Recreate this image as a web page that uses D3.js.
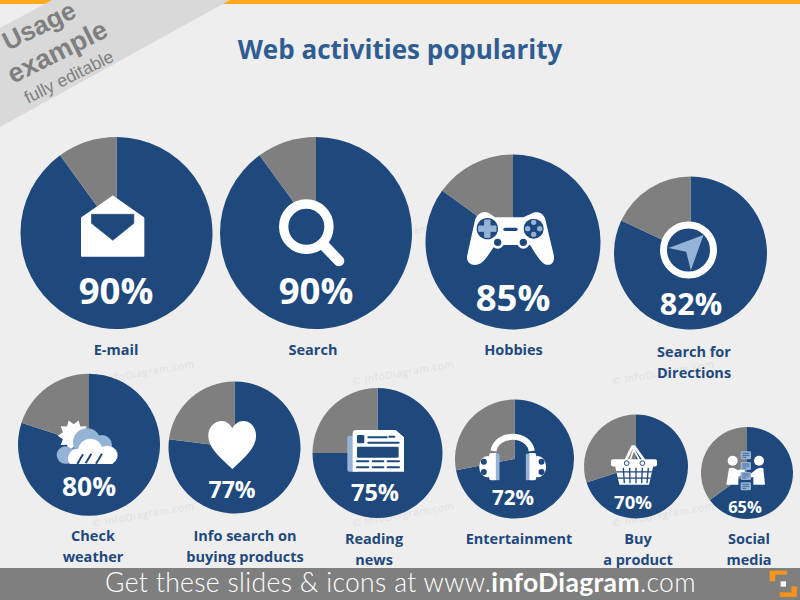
<!DOCTYPE html>
<html>
<head>
<meta charset="utf-8">
<title>Web activities popularity</title>
<script src="https://cdn.jsdelivr.net/npm/d3@7/dist/d3.min.js"></script>
<style>
html,body{margin:0;padding:0;background:#eeeeee;}
svg{display:block;}
</style>
</head>
<body>
<svg id="chart" width="800" height="600"></svg>
<script>
// Survey values
const categories = ["E-mail","Search","Hobbies","Search for\nDirections","Check\nweather","Info search on\nbuying products","Reading\nnews","Entertainment","Buy\na product","Social\nmedia"];
const values = [90,90,85,82,80,77,75,72,70,65];
const icons = ["mail","search","gamepad","compass","weather","heart","news","headphones","basket","social"];

// Layout, one entry per pie
const centerX = [116.5,316,513,690.5,89,234.5,377.5,514.5,636,747];
const centerY = [233,233,242,253,444.7,447.5,453,459,466.5,473];
const radii = [96,96,87.5,76.5,71,66,65,59.5,52,46];
const valueX = [116,316,513,691,89,232,375,513,633,745];
const valueY = [304,304,311,315,496,498,501,505,509,513];
const valueSize = [36.5,36.5,36.5,30.5,26.5,23,23.5,20.5,18.5,16.5];
const labelX = [116,313,513.5,694,93,245,374,519,638,749];
const labelY = [355,355,355,357,541,541,544,544,544,544];

const NAVY="#1f497d", GREY="#7f7f7f", LIGHT="#95b3d7", WHITE="#ffffff";
const svg = d3.select("#chart");

svg.append("rect").attr("width",800).attr("height",600).attr("fill","#eeeeee");
svg.append("rect").attr("width",800).attr("height",4).attr("fill","#ffa91f");

// Faint copyright stamps sit under the pies
const stampX=[93,353,613], stampY=[245,385,527];
stampY.forEach(y=>stampX.forEach(x=>{
  svg.append("text").attr("transform",`translate(${x},${y}) rotate(-10)`)
    .attr("font-family","Open Sans").attr("font-size",10).attr("letter-spacing",0.7)
    .attr("fill","#dedede").text("© InfoDiagram.com");
}));

// Corner ribbon
svg.append("path").attr("d","M0,28 L52,0 L230,0 L0,127 Z").attr("fill","#d9d9d9");
const ribbon=[["Usage",8,51,26,"bold"],["example",13,84,27,"bold"],["fully editable",28,104,17.5,"normal"]];
ribbon.forEach(r=>{
  svg.append("text").attr("transform",`translate(${r[1]},${r[2]}) rotate(-26.5)`)
    .attr("font-family","Liberation Sans").attr("font-size",r[3]).attr("font-weight",r[4])
    .attr("fill","#7f7f7f").text(r[0]);
});

svg.append("text").attr("x",400).attr("y",59).attr("text-anchor","middle")
  .attr("font-family","Open Sans").attr("font-weight",700).attr("font-size",26)
  .attr("fill","#2f5d92").text("Web activities popularity");

const pie=d3.pie().sort(null);
const colour=d3.scaleOrdinal().domain([0,1]).range([NAVY,GREY]);

// Icons are sketched in a 3x grid around a local origin
const iconDraw={
  mail(g){
    g.append("path").attr("d","M278,199 L370,264 V378 H185 V264 Z").attr("fill",WHITE).attr("stroke",WHITE).attr("stroke-width",5).attr("stroke-linejoin","round");
    g.append("path").attr("d","M214,253 H341 V280 L278,331 L214,280 Z").attr("fill",NAVY).attr("stroke",NAVY).attr("stroke-width",2).attr("stroke-linejoin","round");
  },
  search(g){
    g.append("circle").attr("cx",860).attr("cy",290).attr("r",68).attr("fill",NAVY).attr("stroke",WHITE).attr("stroke-width",28);
    g.append("line").attr("x1",912).attr("y1",345).attr("x2",958).attr("y2",393).attr("stroke",WHITE).attr("stroke-width",32).attr("stroke-linecap","round");
  },
  gamepad(g){
    g.append("path").attr("d","M205,128 C190,122 172,130 165,150 L142,255 C136,280 160,292 182,280 C195,272 212,245 225,225 L330,225 C345,248 358,272 372,281 C392,292 408,276 400,250 L375,145 C368,125 345,122 332,132 L310,142 L225,142 Z").attr("fill",WHITE);
    g.append("circle").attr("cx",202).attr("cy",176).attr("r",32).attr("fill",NAVY);
    g.append("path").attr("d","M194,150 H210 V168 H228 V184 H210 V202 H194 V184 H176 V168 H194 Z").attr("fill",LIGHT).attr("stroke",LIGHT).attr("stroke-width",3).attr("stroke-linejoin","round");
    g.append("circle").attr("cx",341).attr("cy",176).attr("r",30).attr("fill",NAVY);
    [[341,157],[341,193],[323,176],[359,176]].forEach(p=>g.append("circle").attr("cx",p[0]).attr("cy",p[1]).attr("r",8).attr("fill",LIGHT));
    g.append("line").attr("x1",255).attr("y1",178).attr("x2",288).attr("y2",178).attr("stroke",NAVY).attr("stroke-width",10).attr("stroke-linecap","round");
    [[233,217],[310,217]].forEach(p=>{
      g.append("circle").attr("cx",p[0]).attr("cy",p[1]).attr("r",19).attr("fill",WHITE);
      g.append("circle").attr("cx",p[0]).attr("cy",p[1]).attr("r",11).attr("fill",NAVY);
    });
  },
  compass(g){
    g.append("circle").attr("cx",805).attr("cy",241).attr("r",75).attr("fill",NAVY).attr("stroke",WHITE).attr("stroke-width",21);
    g.append("path").attr("d","M850,196 L745,235 L798,246 L812,302 Z").attr("fill",LIGHT);
  },
  weather(g){
    const spikes=d3.range(20).map(i=>{const a=i*Math.PI/10,rr=i%2?34:48;return [222+rr*Math.cos(a),212+rr*Math.sin(a)];});
    g.append("polygon").attr("points",spikes.join(" ")).attr("fill",WHITE);
    [[262,232,42],[307,240,30],[197,270,26],[330,270,25]].forEach(c=>g.append("circle").attr("cx",c[0]).attr("cy",c[1]).attr("r",c[2]).attr("fill",LIGHT));
    g.append("rect").attr("x",197).attr("y",250).attr("width",135).attr("height",45).attr("fill",LIGHT);
    g.append("path").attr("d","M211,297 A28,28 0 0 1 235,252 A38,38 0 0 1 308,246 A28,28 0 0 1 338,297 Z").attr("fill",WHITE);
    [[233,297,250,268],[258,295,275,266],[289,296,307,266]].forEach(l=>g.append("line").attr("x1",l[0]).attr("y1",l[1]).attr("x2",l[2]).attr("y2",l[3]).attr("stroke",NAVY).attr("stroke-width",6));
  },
  heart(g){
    g.append("path").attr("d","M697,312 C660,275 625,250 625,212 C625,185 645,168 665,168 C680,168 690,178 697,190 C704,178 714,168 730,168 C750,168 768,185 768,212 C768,250 735,275 697,312 Z").attr("fill",WHITE);
  },
  news(g){
    g.append("rect").attr("x",127).attr("y",167).attr("width",30).attr("height",108).attr("rx",5).attr("fill",LIGHT);
    g.append("path").attr("d","M143,160 Q143,150 155,150 L272,150 L297,172 V275 H143 Z").attr("fill",WHITE);
    g.append("rect").attr("x",156).attr("y",165).attr("width",22).attr("height",25).attr("rx",4).attr("fill",NAVY);
    g.append("rect").attr("x",156).attr("y",200).attr("width",125).attr("height",33).attr("rx",4).attr("fill",NAVY);
    [[190,172,245],[190,188,281],[253,170,268],[156,244,190],[203,244,235],[248,244,282],[156,262,190],[203,262,235],[248,262,282]].forEach(l=>
      g.append("line").attr("x1",l[0]).attr("y1",l[1]).attr("x2",l[2]).attr("y2",l[1]).attr("stroke",NAVY).attr("stroke-width",6).attr("stroke-linecap","round"));
  },
  headphones(g){
    g.append("path").attr("d","M565,212 C575,155 670,155 680,212").attr("fill","none").attr("stroke",WHITE).attr("stroke-width",18);
    const cup=(sign)=>{
      const c=g.append("g").attr("transform",sign<0?"translate(1245,0) scale(-1,1)":null);
      c.append("ellipse").attr("cx",548).attr("cy",259).attr("rx",26).attr("ry",32).attr("fill",WHITE);
      c.append("circle").attr("cx",536).attr("cy",244).attr("r",9).attr("fill",NAVY);
      c.append("circle").attr("cx",536).attr("cy",275).attr("r",9).attr("fill",NAVY);
      c.append("rect").attr("x",552).attr("y",218).attr("width",24).attr("height",82).attr("rx",6).attr("fill",WHITE);
      c.append("rect").attr("x",572).attr("y",220).attr("width",11).attr("height",80).attr("rx",3).attr("fill",LIGHT);
    };
    cup(1);cup(-1);
  },
  basket(g){
    g.append("path").attr("d","M152,182 L172,140 H178 L208,182").attr("fill","none").attr("stroke",WHITE).attr("stroke-width",8).attr("stroke-linejoin","round");
    g.append("path").attr("d","M165,182 L178,142").attr("stroke",WHITE).attr("stroke-width",5);
    g.append("path").attr("d","M194,182 L172,142").attr("stroke",WHITE).attr("stroke-width",5);
    g.append("rect").attr("x",108).attr("y",178).attr("width",138).attr("height",22).attr("rx",6).attr("fill",WHITE);
    g.append("path").attr("d","M120,198 H235 L222,255 H133 Z").attr("fill",WHITE);
    [[124,216,231],[127,235,227]].forEach(l=>g.append("line").attr("x1",l[0]).attr("y1",l[1]).attr("x2",l[2]).attr("y2",l[1]).attr("stroke",NAVY).attr("stroke-width",4));
    [[145,148],[164,165],[183,183],[202,200],[220,216]].forEach(l=>g.append("line").attr("x1",l[0]).attr("y1",204).attr("x2",l[1]).attr("y2",250).attr("stroke",NAVY).attr("stroke-width",4));
    [[155,190],[202,190]].forEach(p=>g.append("circle").attr("cx",p[0]).attr("cy",p[1]).attr("r",7).attr("fill","none").attr("stroke",NAVY).attr("stroke-width",3));
  },
  social(g){
    g.append("circle").attr("cx",473).attr("cy",183).attr("r",15).attr("fill",WHITE);
    g.append("circle").attr("cx",552).attr("cy",183).attr("r",15).attr("fill",WHITE);
    g.append("path").attr("d","M462,206 C470,202 480,204 488,212 L508,206 L510,218 L490,232 V255 H454 Z").attr("fill",WHITE);
    g.append("path").attr("d","M565,206 C558,202 548,204 540,212 L520,228 L514,236 L535,232 V255 H570 Z").attr("fill",WHITE);
    [155,187,217,248].forEach(y=>{
      g.append("rect").attr("x",497).attr("y",y).attr("width",31).attr("height",24).attr("rx",4).attr("fill",LIGHT);
      [6,12,18].forEach(d=>g.append("line").attr("x1",502).attr("y1",y+d).attr("x2",d===18?514:523).attr("y2",y+d).attr("stroke",NAVY).attr("stroke-width",2));
    });
  }
};
// Where each icon's sketch origin falls, in its own 3x grid
const iconOrigin={mail:[289,309],search:[889,309],gamepad:[279,216],compass:[811,250],weather:[268,239],heart:[703.5,247.5],news:[217.5,219],headphones:[628,236],basket:[183,200],social:[516,220]};

values.forEach((v,i)=>{
  const g=svg.append("g").attr("transform",`translate(${centerX[i]},${centerY[i]})`);
  const arc=d3.arc().innerRadius(0).outerRadius(radii[i]);
  g.selectAll("path.slice").data(pie([v,100-v])).join("path").attr("class","slice")
    .attr("d",arc).attr("fill",(d,k)=>colour(k));
  const o=iconOrigin[icons[i]];
  const ig=g.append("g").attr("transform",`scale(${1/3}) translate(${-o[0]},${-o[1]})`);
  iconDraw[icons[i]](ig);
  svg.append("text").attr("x",valueX[i]).attr("y",valueY[i]).attr("text-anchor","middle")
    .attr("font-family","Open Sans").attr("font-weight",700).attr("font-size",valueSize[i])
    .attr("fill",WHITE).text(v+"%");
  categories[i].split("\n").forEach((line,k)=>{
    svg.append("text").attr("x",labelX[i]).attr("y",labelY[i]+k*21).attr("text-anchor","middle")
      .attr("font-family","Open Sans").attr("font-weight",700).attr("font-size",14.5)
      .attr("fill",NAVY).text(line);
  });
});

// Footer strip
svg.append("rect").attr("y",568).attr("width",800).attr("height",32).attr("fill","#7f7f7f");
const foot=svg.append("text").attr("x",105).attr("y",592).attr("font-family","Lato").attr("font-size",26.5).attr("letter-spacing",0.34).attr("fill",WHITE).attr("font-weight",300);
foot.append("tspan").text("Get these slides & icons at www.");
foot.append("tspan").attr("font-weight",700).text("infoDiagram");
foot.append("tspan").text(".com");

const logo=svg.append("g").attr("transform","translate(575,400) scale(0.3333)");
logo.append("path").attr("d","M585,513 H635 V523 H600 V543 H585 Z").attr("fill","#f7941d").attr("stroke","#f7941d").attr("stroke-width",2).attr("stroke-linejoin","round");
logo.append("path").attr("d","M615,590 H665 V560 H650 V578 H615 Z").attr("fill","#f7941d").attr("stroke","#f7941d").attr("stroke-width",2).attr("stroke-linejoin","round");
logo.append("rect").attr("x",617).attr("y",544).attr("width",16).attr("height",16).attr("fill",WHITE);
</script>
</body>
</html>
